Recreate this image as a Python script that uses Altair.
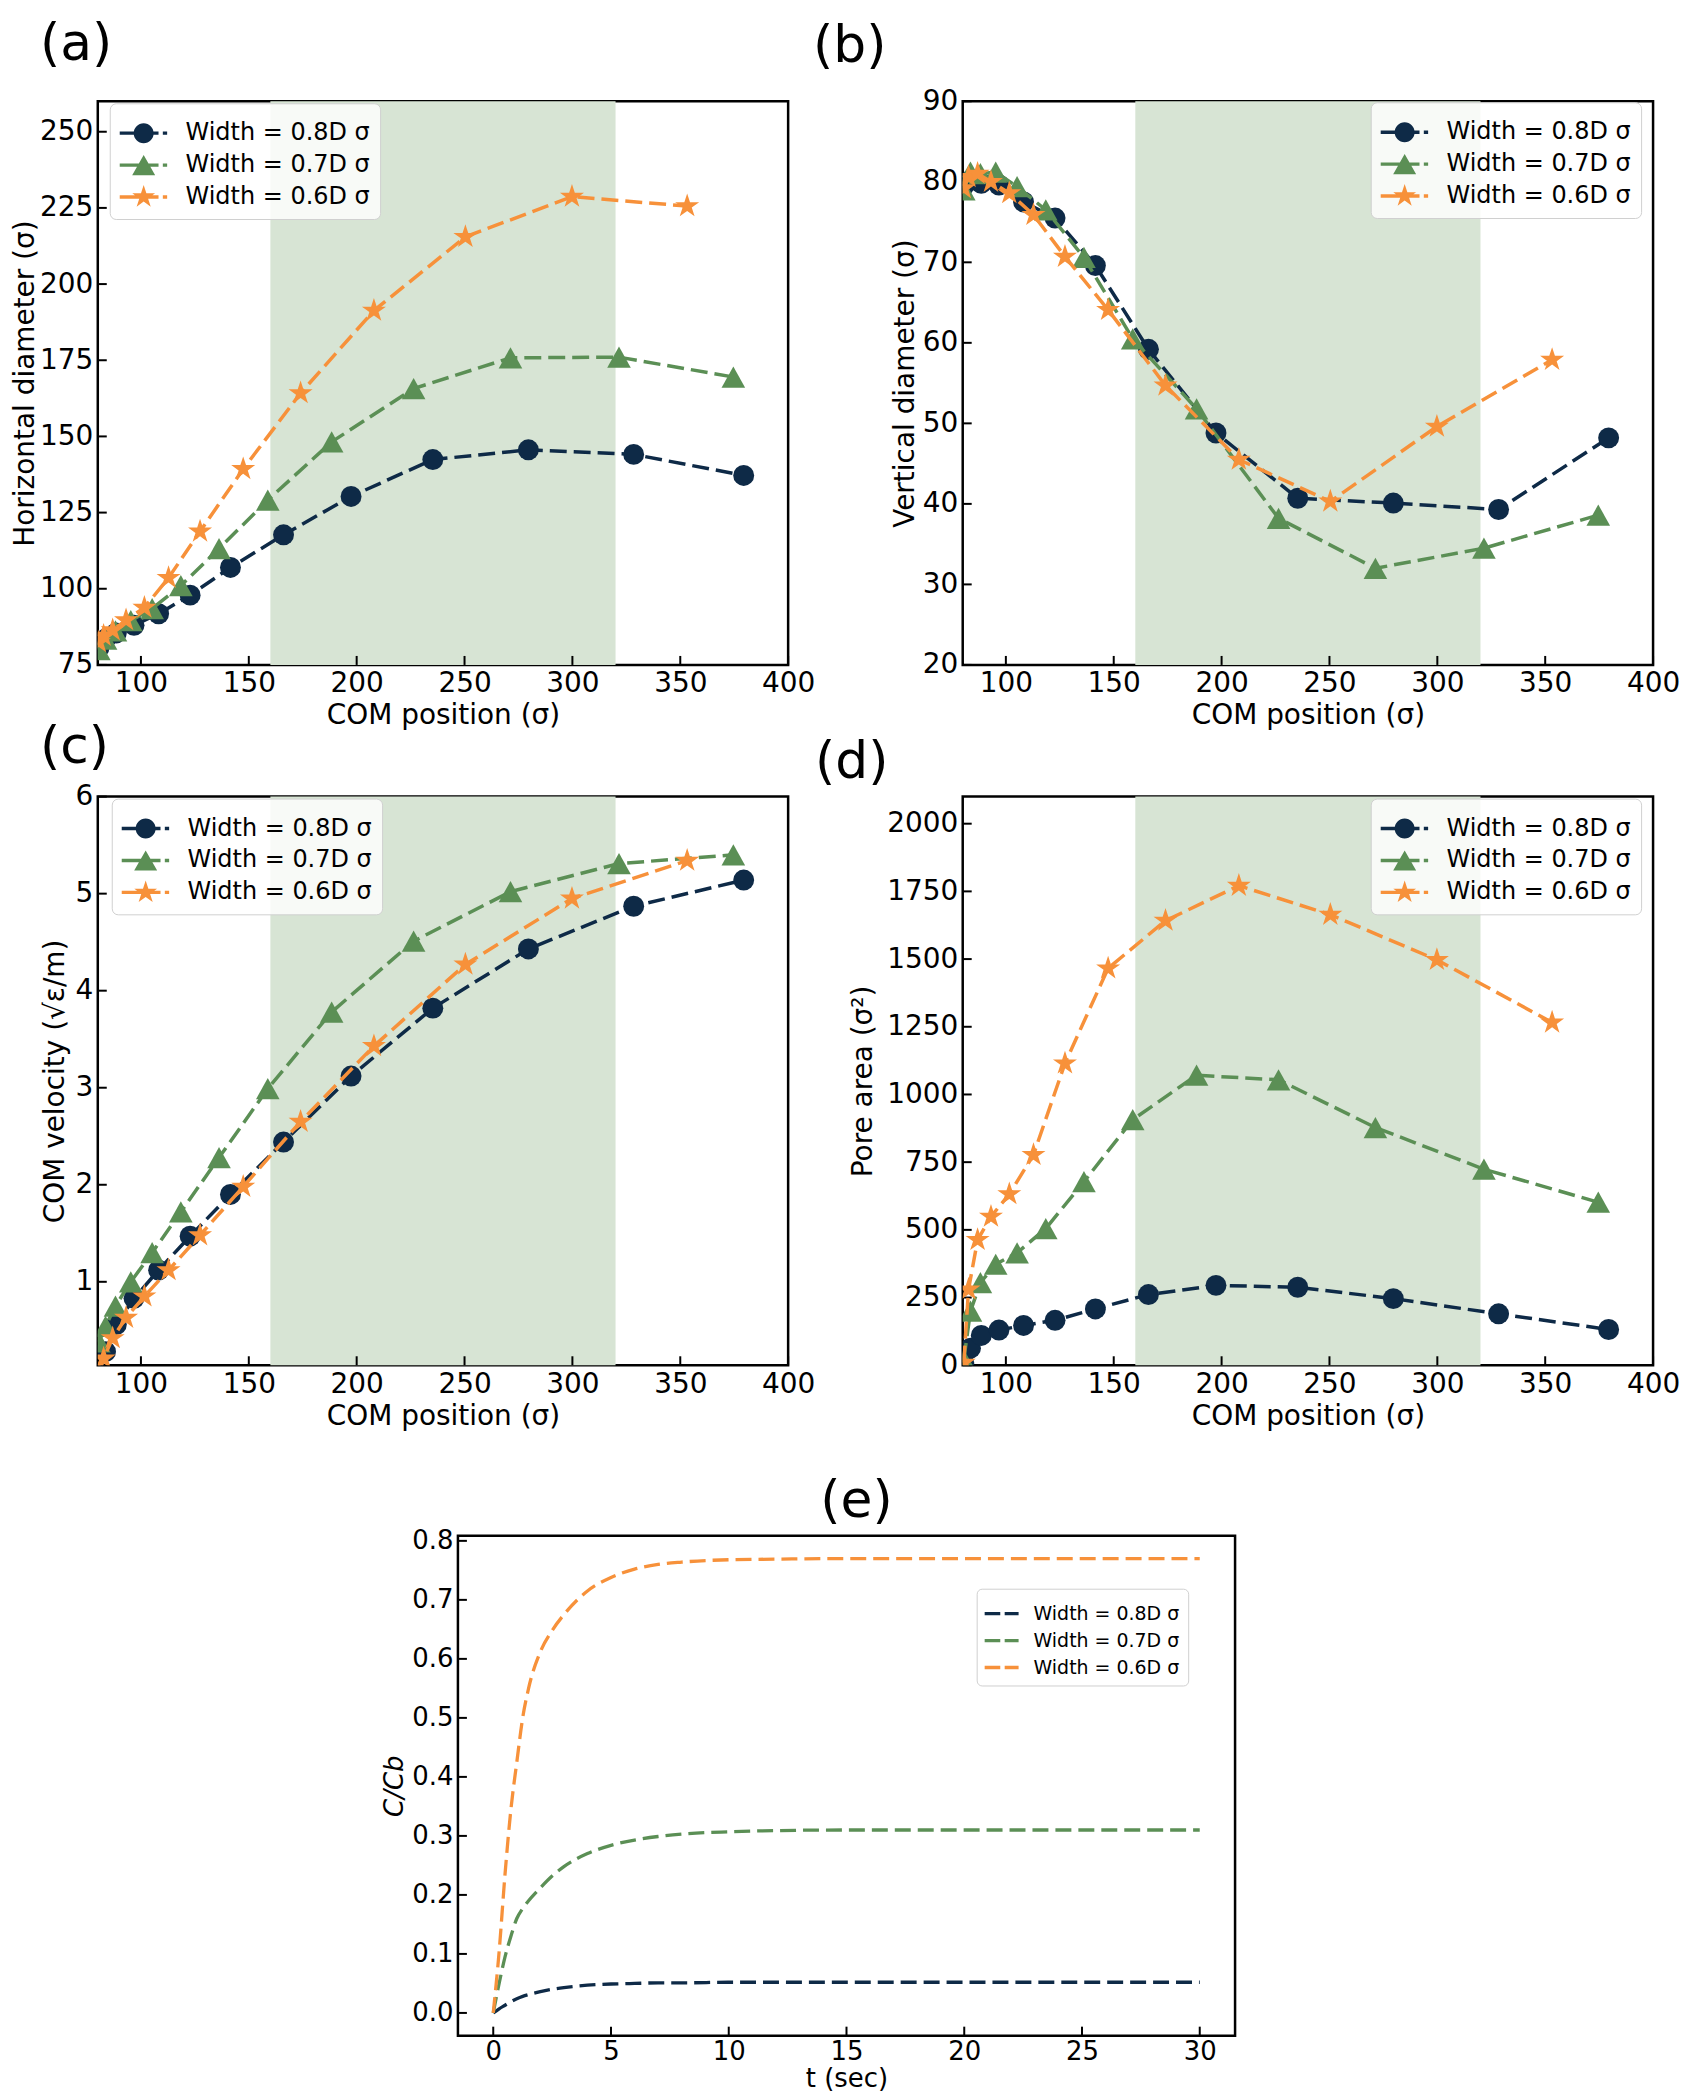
import altair as alt
import pandas as pd

FONT = "DejaVu Sans"
NAVY, GREEN, ORANGE = "#0e2a47", "#5b8f55", "#f7913a"
SHADE = "#d7e4d4"
COLORS = [NAVY, GREEN, ORANGE]
LABELS = ["Width = 0.8D σ", "Width = 0.7D σ", "Width = 0.6D σ"]

# ---------------- data ----------------
SHADE_RANGE = [160, 320]
COM_TICKS = [100, 150, 200, 250, 300, 350, 400]

NAVY_X = [80.5, 83.6, 88.6, 96.8, 108.2, 122.8, 141.5, 166.1, 197.4, 235.3, 279.6, 328.4, 379.4]
GREEN_X = [80.5, 83.6, 88.2, 95.3, 105.2, 118.5, 136.2, 158.8, 188.4, 226.4, 271.3, 321.6, 374.6]
ORANGE_X = [80.5, 82.7, 86.9, 93.1, 101.6, 112.8, 127.4, 147.4, 174.0, 208.0, 250.4, 299.8, 353.2]

# (a) horizontal diameter
NAVY_HD = [80.5, 83.5, 85.5, 88.0, 91.8, 97.9, 107.0, 117.7, 130.3, 142.4, 145.6, 144.1, 137.2]
GREEN_HD = [80.0, 83.5, 86.2, 89.5, 93.5, 101.0, 113.2, 129.1, 148.2, 165.7, 175.8, 176.0, 169.5]
ORANGE_HD = [82.5, 84.6, 86.4, 89.7, 93.8, 103.6, 118.8, 139.3, 164.2, 191.3, 215.5, 228.7, 225.6]
HD_TICKS = [75, 100, 125, 150, 175, 200, 225, 250]

# (b) vertical diameter
NAVY_VD = [79.5, 80.2, 79.8, 79.6, 77.5, 75.5, 69.6, 59.2, 48.8, 40.7, 40.1, 39.3, 48.2]
GREEN_VD = [79.0, 81.2, 81.0, 81.2, 79.4, 76.5, 70.6, 60.5, 51.8, 38.2, 32.0, 34.5, 38.6]
ORANGE_VD = [79.2, 80.6, 81.0, 80.0, 78.6, 75.9, 70.7, 64.1, 54.7, 45.5, 40.3, 49.6, 57.9]
VD_TICKS = [20, 30, 40, 50, 60, 70, 80, 90]

# (c) COM velocity
NAVY_V = [0.05, 0.28, 0.56, 0.83, 1.12, 1.47, 1.90, 2.44, 3.12, 3.82, 4.43, 4.87, 5.14]
GREEN_V = [0.38, 0.54, 0.75, 1.00, 1.30, 1.72, 2.28, 2.99, 3.78, 4.51, 5.02, 5.31, 5.40]
ORANGE_V = [0.05, 0.21, 0.42, 0.63, 0.85, 1.12, 1.48, 1.98, 2.65, 3.43, 4.27, 4.95, 5.34]
V_TICKS = [1, 2, 3, 4, 5, 6]

# (d) pore area
NAVY_A = [8, 63, 110, 130, 147, 166, 208, 261, 295, 288, 246, 190, 132]
GREEN_A = [20, 200, 305, 373, 415, 505, 678, 907, 1071, 1054, 878, 724, 602]
ORANGE_A = [10, 280, 463, 549, 632, 777, 1115, 1466, 1642, 1771, 1664, 1497, 1266]
A_TICKS = [0, 250, 500, 750, 1000, 1250, 1500, 1750, 2000]

# (e) concentration vs time
T_E = [0, 0.25, 0.5, 0.75, 1.0, 1.25, 1.5, 2.0, 2.5, 3.0, 4.0, 5.0, 6.0, 7.0, 8.0, 10.0, 12.0, 15.0, 20.0, 25.0, 30.0]
E_NAVY = [0, 0.007, 0.013, 0.019, 0.024, 0.028, 0.031, 0.036, 0.040, 0.043, 0.047, 0.049, 0.050, 0.051, 0.051, 0.052, 0.052, 0.052, 0.052, 0.052, 0.052]
E_GREEN = [0, 0.050, 0.095, 0.130, 0.160, 0.177, 0.190, 0.212, 0.232, 0.248, 0.270, 0.284, 0.293, 0.299, 0.303, 0.307, 0.309, 0.310, 0.310, 0.310, 0.310]
E_ORANGE = [0, 0.104, 0.235, 0.345, 0.425, 0.500, 0.550, 0.612, 0.648, 0.675, 0.715, 0.738, 0.752, 0.760, 0.764, 0.768, 0.769, 0.770, 0.770, 0.770, 0.770]
T_TICKS = [0, 5, 10, 15, 20, 25, 30]
C_TICKS = [0.0, 0.1, 0.2, 0.3, 0.4, 0.5, 0.6, 0.7, 0.8]

# ---------------- marker shapes ----------------
STAR = ("M0,-1L0.2245,-0.309L0.951,-0.309L0.3633,0.118L0.5878,0.809L0,0.382"
        "L-0.5878,0.809L-0.3633,0.118L-0.951,-0.309L-0.2245,-0.309Z")
TRI = "M0,-0.9L1,0.9L-1,0.9Z"
MARKERS = [("circle", 440), (TRI, 560), (STAR, 640)]

# legend glyphs: dashed line sample with the marker in its middle
LEG_LINE = "M-1,-0.084H0.944V0.084H-1Z M1.16,-0.084H1.376V0.084H1.16Z"
LEG_PATHS = [
    LEG_LINE + " M-0.3,0A0.5,0.5 0 1,1 0.7,0A0.5,0.5 0 1,1 -0.3,0Z",
    LEG_LINE + " M0.2,-0.504L0.776,0.504L-0.376,0.504Z",
    LEG_LINE + (" M0.2,-0.6L0.3347,-0.1854L0.7706,-0.1854L0.418,0.0708L0.5527,0.4854"
                "L0.2,0.2292L-0.1527,0.4854L-0.018,0.0708L-0.3706,-0.1854L0.0653,-0.1854Z"),
]
LEG_DASH = "M-1,-0.1H-0.08V0.1H-1Z M0.18,-0.1H1V0.1H0.18Z"


def panel(key, xs_list, ys_list, xdom, xticks, ydom, yticks, xtitle, ytitle,
          ytitle_x, title, width, height, legend, leg_paths, font=28, xfmt=None,
          yfmt=None, y_ext=None, xtitle_y=51, label_pad=5, markers=True,
          shade=True, dash=(17, 7), line_w=3.5, interpolate=None,
          ytitle_style=None):
    xscale = alt.Scale(domain=xdom, nice=False, zero=False)
    yscale = alt.Scale(domain=ydom, nice=False, zero=False)
    xa = dict(title=xtitle, values=xticks, labelFlush=False, labelOverlap=False,
              ticks=False, tickSize=0, domain=False, grid=False,
              labelPadding=label_pad, labelFontSize=font, titleFontSize=font,
              titleY=xtitle_y, titleBaseline="middle")
    if xfmt:
        xa["format"] = xfmt
    ya = dict(title=ytitle, values=yticks, labelOverlap=False, labelFlush=False,
              ticks=False, tickSize=0, domain=False, grid=False, labelPadding=5,
              labelFontSize=font, titleFontSize=font, titleX=ytitle_x,
              titleBaseline="middle")
    if yfmt:
        ya["format"] = yfmt
    if y_ext:
        ya["minExtent"] = y_ext
        ya["maxExtent"] = y_ext
    if ytitle_style:
        ya["titleFontStyle"] = ytitle_style
    xaxis = alt.Axis(**xa)
    yaxis = alt.Axis(**ya)

    def X(f):
        return alt.X(f"{f}:Q", scale=xscale, axis=xaxis)

    def Y(f):
        return alt.Y(f"{f}:Q", scale=yscale, axis=yaxis)

    layers = []
    if shade:
        sdf = pd.DataFrame({"x0": [SHADE_RANGE[0]], "x1": [SHADE_RANGE[1]]})
        layers.append(alt.Chart(sdf).mark_rect(color=SHADE).encode(
            x=X("x0"), x2=alt.X2("x1:Q")))
    # inward ticks
    layers.append(alt.Chart(pd.DataFrame({"v": xticks})).mark_rule(
        color="black", strokeWidth=2).encode(
        x=X("v"), y=alt.value(height), y2=alt.value(height - 9)))
    layers.append(alt.Chart(pd.DataFrame({"v": yticks})).mark_rule(
        color="black", strokeWidth=2).encode(
        y=Y("v"), x=alt.value(0), x2=alt.value(9)))

    for xs, ys, col, (shp, size) in zip(xs_list, ys_list, COLORS, MARKERS):
        df = pd.DataFrame({"x": xs, "y": ys})
        lk = dict(color=col, strokeDash=list(dash), strokeWidth=line_w, clip=True)
        if interpolate:
            lk["interpolate"] = interpolate
        layers.append(alt.Chart(df).mark_line(**lk).encode(x=X("x"), y=Y("y")))
        if markers:
            layers.append(alt.Chart(df).mark_point(
                filled=True, shape=shp, size=size, color=col, opacity=1,
                clip=True).encode(x=X("x"), y=Y("y")))

    sf = f"series_{key}"
    ldf = pd.DataFrame({sf: LABELS})
    layers.append(alt.Chart(ldf).transform_filter("false").mark_point(
        filled=True, opacity=1).encode(
        shape=alt.Shape(f"{sf}:N", scale=alt.Scale(domain=LABELS, range=leg_paths), legend=legend),
        color=alt.Color(f"{sf}:N", scale=alt.Scale(domain=LABELS, range=COLORS), legend=legend),
    ))
    return alt.layer(*layers).properties(width=width, height=height, title=title)


def com_legend(lx, ly):
    return alt.Legend(title=None, orient="none", legendX=lx, legendY=ly,
                      fillColor="rgba(255,255,255,0.82)", strokeColor="#d0d0d0",
                      cornerRadius=6, padding=10, labelFont=FONT, labelFontSize=24,
                      labelColor="black", labelLimit=600, labelOffset=26,
                      symbolSize=1600, symbolStrokeWidth=0, rowPadding=-3)


def ptitle(text, dx, offset, anchor="start"):
    return alt.TitleParams(text=text, anchor=anchor, frame="group", dx=dx,
                           offset=offset, baseline="alphabetic", fontSize=52,
                           font=FONT, fontWeight="normal", color="black")


W = 692
H1 = 565
H2 = 570
COM = "COM position (σ)"
LEG_RIGHT_X = W - 13 - 270

pa = panel("a", [NAVY_X, GREEN_X, ORANGE_X], [NAVY_HD, GREEN_HD, ORANGE_HD],
           [80, 400], COM_TICKS, [75, 260], HD_TICKS, COM,
           "Horizontal diameter (σ)", -72, ptitle("(a)", -58, -11), W, H1,
           com_legend(12, 2), LEG_PATHS, y_ext=88)
pb = panel("b", [NAVY_X, GREEN_X, ORANGE_X], [NAVY_VD, GREEN_VD, ORANGE_VD],
           [80, 400], COM_TICKS, [20, 90], VD_TICKS, COM,
           "Vertical diameter (σ)", -57, ptitle("(b)", -150, -27), W, H1,
           com_legend(LEG_RIGHT_X, 1), LEG_PATHS)
pc = panel("c", [NAVY_X, GREEN_X, ORANGE_X], [NAVY_V, GREEN_V, ORANGE_V],
           [80, 400], COM_TICKS, [0.14, 6.0], V_TICKS, COM,
           "COM velocity (√ε/m)", -42, ptitle("(c)", -58, -32), W, H2,
           com_legend(14, 2), LEG_PATHS)
pd_ = panel("d", [NAVY_X, GREEN_X, ORANGE_X], [NAVY_A, GREEN_A, ORANGE_A],
            [80, 400], COM_TICKS, [0, 2100], A_TICKS, COM,
            "Pore area (σ²)", -99, ptitle("(d)", -148, -33), W, H2,
            com_legend(LEG_RIGHT_X, 2), LEG_PATHS, yfmt="d")

e_legend = alt.Legend(title=None, orient="none", legendX=520, legendY=53,
                      fillColor="rgba(255,255,255,0.82)", strokeColor="#d0d0d0",
                      cornerRadius=5, padding=8, labelFont=FONT, labelFontSize=19,
                      labelColor="black", labelLimit=600, labelOffset=15,
                      symbolSize=1156, symbolStrokeWidth=0, rowPadding=-1)
pe = panel("e", [T_E, T_E, T_E], [E_NAVY, E_GREEN, E_ORANGE],
           [-1.5, 31.5], T_TICKS, [-0.0385, 0.8085], C_TICKS, "t (sec)",
           "C/Cb", -64, ptitle("(e)", 10, -41, anchor="middle"), 779, 501,
           e_legend, [LEG_DASH] * 3, font=26, yfmt=".1f",
           xtitle_y=43, label_pad=3, markers=False, shade=False, dash=(16, 7),
           line_w=3.3, interpolate="monotone", ytitle_style="italic")

# empty layout spacer that shifts panel (e) to the centre of the figure
spacer = alt.Chart(pd.DataFrame({"v": [0]})).transform_filter("false").mark_point(
).properties(width=361, height=10, view=alt.ViewBackground(stroke="transparent"))

IND = dict(color="independent", shape="independent")

grid = alt.concat(pa, pb, pc, pd_, columns=2,
                  spacing={"row": 132, "column": 175}, bounds="flush"
                  ).resolve_scale(**IND).resolve_legend(**IND)
row3 = alt.hconcat(spacer, pe, spacing=0, bounds="flush"
                   ).resolve_scale(**IND).resolve_legend(**IND)

chart = alt.concat(grid, row3, columns=1, spacing=41
                   ).resolve_scale(**IND).resolve_legend(**IND).properties(
    padding={"top": 6, "bottom": 0, "left": 0, "right": 0}
).configure(font=FONT).configure_view(
    stroke="black", strokeWidth=2.5
).configure_axis(
    labelFont=FONT, titleFont=FONT, labelColor="black", titleColor="black",
    titleFontWeight="normal"
).configure_title(font=FONT, fontWeight="normal", color="black")

chart.save("out.html", embed_options={"renderer": "svg", "actions": False})
